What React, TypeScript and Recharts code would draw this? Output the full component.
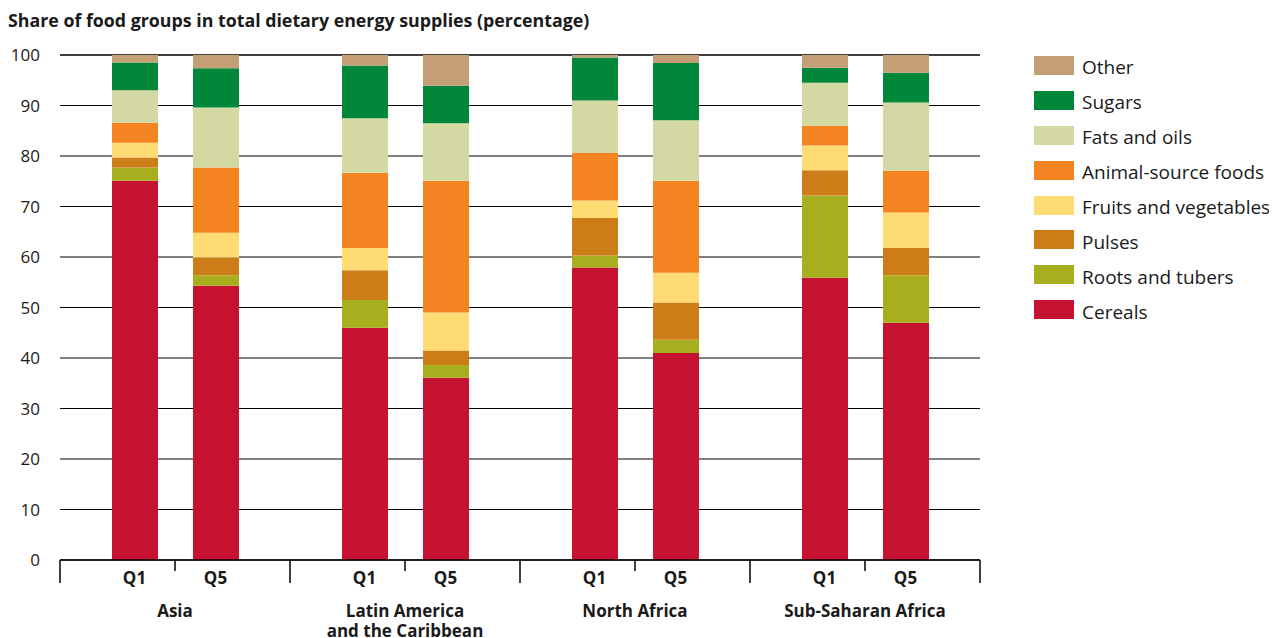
import React from 'react';
import { BarChart, Bar, XAxis, YAxis, CartesianGrid } from 'recharts';

const title = 'Share of food groups in total dietary energy supplies (percentage)';
const regions = ['Asia', 'Latin America\nand the Caribbean', 'North Africa', 'Sub-Saharan Africa'];
const quintiles = ['Q1', 'Q5'];
const foodGroups = [
  'Cereals',
  'Roots and tubers',
  'Pulses',
  'Fruits and vegetables',
  'Animal-source foods',
  'Fats and oils',
  'Sugars',
  'Other',
];
const colors = ['#C41230', '#A8AF1F', '#CD7D17', '#FFDB73', '#F48422', '#D4D8A2', '#00873A', '#C49E75'];

// order: Asia Q1, Asia Q5, LatAm Q1, LatAm Q5, N.Africa Q1, N.Africa Q5, SSA Q1, SSA Q5
const cereals = [75.1, 54.3, 46.0, 36.1, 57.9, 41.0, 55.9, 47.0];
const roots = [2.6, 2.1, 5.5, 2.5, 2.4, 2.6, 16.3, 9.4];
const pulses = [2.0, 3.5, 5.9, 2.9, 7.4, 7.4, 5.0, 5.4];
const fruits = [2.9, 4.9, 4.4, 7.5, 3.5, 5.9, 4.9, 7.0];
const animal = [4.0, 12.9, 14.9, 26.1, 9.4, 18.2, 3.9, 8.3];
const fats = [6.4, 11.9, 10.8, 11.4, 10.4, 12.0, 8.5, 13.5];
const sugars = [5.5, 7.8, 10.4, 7.4, 8.5, 11.3, 3.0, 5.9];
const other = [1.5, 2.6, 2.1, 6.1, 0.5, 1.6, 2.5, 3.5];

const yTicks = [0, 10, 20, 30, 40, 50, 60, 70, 80, 90, 100];

const series = [cereals, roots, pulses, fruits, animal, fats, sugars, other];

const data = regions.map((region, r) => {
  const row: Record<string, any> = { region };
  quintiles.forEach((q, qi) => {
    series.forEach((s, g) => {
      row[`q${qi}_${g}`] = s[r * 2 + qi];
    });
  });
  return row;
});

const FONT = '"Open Sans", "Noto Sans", sans-serif';
const CHART_W = 1269;
const CHART_H = 630;
const M = { top: 47, right: 297, left: 12, bottom: 8 };
const Y_W = 40;
const PLOT_W = CHART_W - M.left - Y_W - M.right;
const BAND = PLOT_W / regions.length;
const BAR_SIZE = 46;
const BAR_GAP = 35;
const HALF = (BAR_SIZE + BAR_GAP) / 2;

const XTick = (props: any) => {
  const { x, y, payload, index } = props;
  const lines = String(payload.value).split('\n');
  return (
    <g>
      <line x1={x} x2={x} y1={y} y2={y + 11} stroke="#000" strokeWidth={1.5} />
      <line x1={x - BAND / 2} x2={x - BAND / 2} y1={y} y2={y + 23} stroke="#000" strokeWidth={1.5} />
      {index === regions.length - 1 && (
        <line x1={x + BAND / 2} x2={x + BAND / 2} y1={y} y2={y + 23} stroke="#000" strokeWidth={1.5} />
      )}
      {quintiles.map((q, i) => (
        <text
          key={q}
          x={x + (i === 0 ? -HALF : HALF)}
          y={y + 17}
          textAnchor="middle"
          dominantBaseline="central"
          fontFamily={FONT}
          fontWeight={700}
          fontSize={17}
          fill="#1a1a1a"
        >
          {q}
        </text>
      ))}
      {lines.map((l, i) => (
        <text
          key={i}
          x={x}
          y={y + 50.5 + i * 19.5}
          textAnchor="middle"
          dominantBaseline="central"
          fontFamily={FONT}
          fontWeight={700}
          fontSize={17}
          fill="#1a1a1a"
        >
          {l}
        </text>
      ))}
    </g>
  );
};

const LegendBox = () => (
  <div style={{ position: 'absolute', left: 1026, top: 40, width: 243, fontFamily: FONT }}>
    {foodGroups
      .map((name, i) => ({ name, color: colors[i] }))
      .reverse()
      .map((item) => (
        <div key={item.name} style={{ display: 'flex', alignItems: 'center', height: 34.9 }}>
          <div style={{ width: 40, height: 19, background: item.color, marginRight: 8, flexShrink: 0 }} />
          <span
            style={{
              fontSize: 19,
              color: '#1a1a1a',
              whiteSpace: 'nowrap',
              position: 'relative',
              top: 2,
            }}
          >
            {item.name}
          </span>
        </div>
      ))}
  </div>
);

export default function App() {
  return (
    <div style={{ position: 'relative', width: CHART_W, height: CHART_H }}>
      <div
        style={{
          position: 'absolute',
          left: 0,
          top: 1,
          fontFamily: FONT,
          fontWeight: 700,
          fontSize: 17.8,
          lineHeight: '22px',
          color: '#1a1a1a',
          whiteSpace: 'nowrap',
        }}
      >
        {title}
      </div>
      <LegendBox />
      <BarChart
        width={CHART_W}
        height={CHART_H}
        data={data}
        margin={M}
        barSize={BAR_SIZE}
        barGap={BAR_GAP}
      >
        <CartesianGrid horizontal vertical={false} stroke="#000" strokeWidth={1} />
        <XAxis
          dataKey="region"
          axisLine={{ stroke: '#000', strokeWidth: 1.5 }}
          tickLine={false}
          tickSize={0}
          tickMargin={0}
          height={70}
          interval={0}
          tick={<XTick />}
        />
        <YAxis
          domain={[0, 100]}
          ticks={yTicks}
          width={Y_W}
          axisLine={false}
          tickLine={false}
          tickSize={0}
          tickMargin={20}
          interval={0}
          tick={{ fontFamily: FONT, fontSize: 17, fill: '#1a1a1a' }}
        />
        {quintiles.map((q, qi) =>
          foodGroups.map((name, g) => (
            <Bar
              key={`q${qi}_${g}`}
              dataKey={`q${qi}_${g}`}
              name={name}
              stackId={q}
              fill={colors[g]}
              isAnimationActive={false}
            />
          ))
        )}
      </BarChart>
    </div>
  );
}
